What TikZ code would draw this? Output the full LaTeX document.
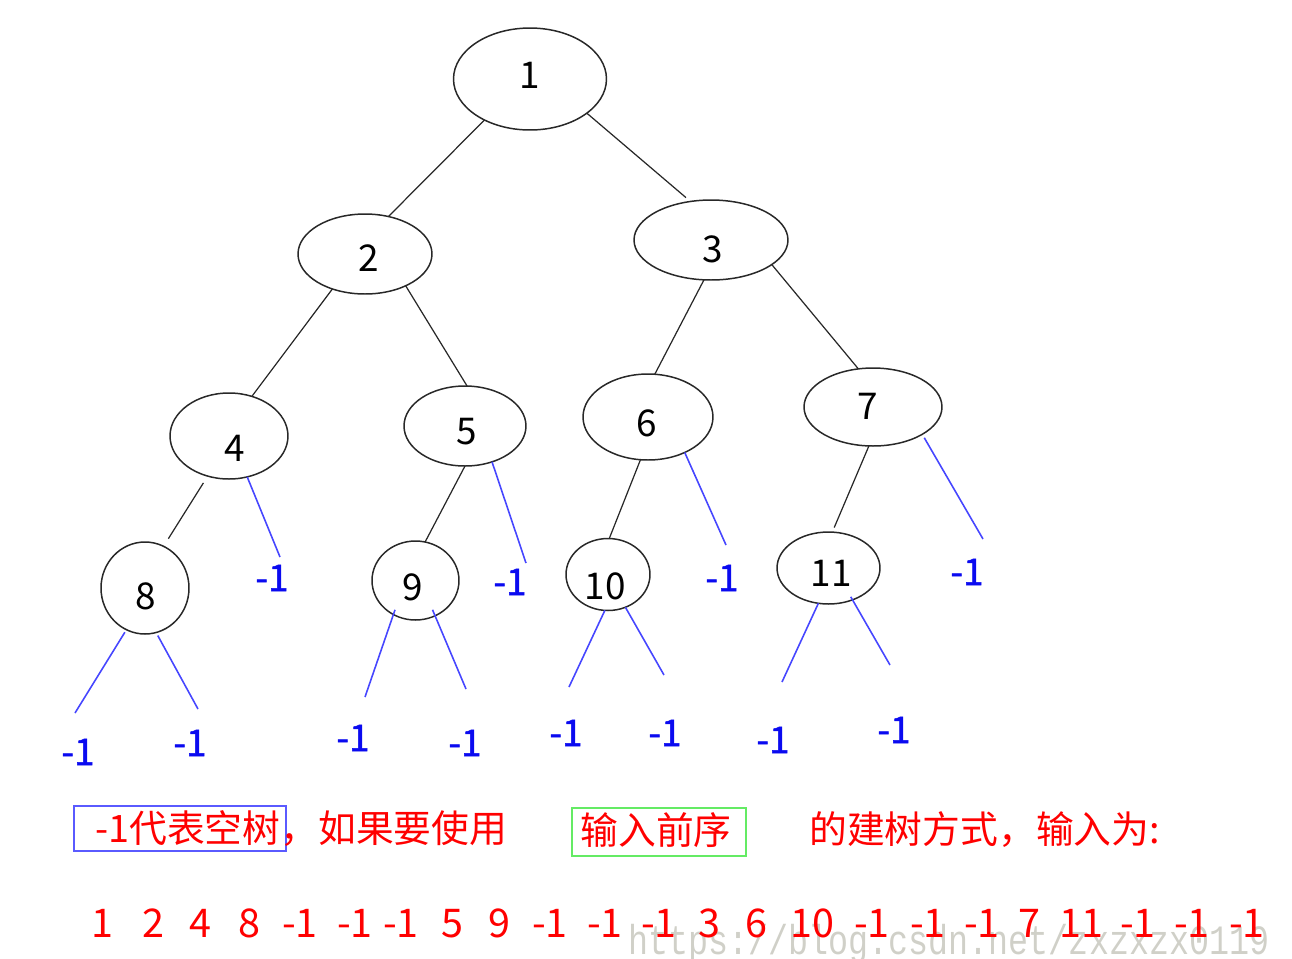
\documentclass[tikz,border=0pt]{standalone}
\usepackage{fontspec}
\setmainfont{Noto Sans CJK SC}
\newfontfamily\semibfont{Noto Sans CJK SC}[FakeBold=1.2]
\newfontfamily\wmfont{Liberation Mono}
\usetikzlibrary{shapes.geometric}
\definecolor{edgeblack}{RGB}{40,40,40}
\definecolor{nullblue}{RGB}{70,70,255}
\definecolor{nulltext}{RGB}{10,10,240}
\definecolor{txtred}{RGB}{255,0,0}
\definecolor{boxblue}{RGB}{90,90,255}
\definecolor{boxgreen}{RGB}{100,235,100}
\definecolor{wmgray}{RGB}{208,208,200}
\begin{document}
\begin{tikzpicture}[x=0.02cm,y=-0.02cm,
  tnode/.style={ellipse,draw=edgeblack,line width=0.85pt,inner sep=0,outer sep=0},
  tlabel/.style={font=\fontsize{21pt}{21pt}\selectfont,text=black,inner sep=0},
  edge/.style={draw=edgeblack,line width=0.7pt},
  nulledge/.style={draw=nullblue,line width=0.9pt},
  nulllabel/.style={font=\semibfont\fontsize{21pt}{21pt}\selectfont,text=nulltext,inner sep=0},
  redtext/.style={font=\fontsize{21.5pt}{21.5pt}\selectfont,text=txtred,inner sep=0},
  numtext/.style={font=\fontsize{22.5pt}{22.5pt}\selectfont,text=txtred,inner sep=0,anchor=base},
  framebox/.style={rectangle,line width=1pt,inner sep=0,outer sep=0}
]
\path[use as bounding box] (0,0) rectangle (1292,958);

% watermark (behind)
\node[anchor=base west,inner sep=0,text=wmgray,font=\wmfont\fontsize{19pt}{19pt}\selectfont] (wm) at (628,954) {\scalebox{1}[1.25]{https://blog.csdn.net/zxzxzx0119}};

% tree nodes
\node[tnode,minimum width=3.06cm,minimum height=2.04cm] (n1) at (530,79) {};
\node[tnode,minimum width=2.68cm,minimum height=1.6cm] (n2) at (365,254) {};
\node[tnode,minimum width=3.08cm,minimum height=1.6cm] (n3) at (711,240) {};
\node[tnode,minimum width=2.36cm,minimum height=1.72cm] (n4) at (229,436) {};
\node[tnode,minimum width=2.44cm,minimum height=1.6cm] (n5) at (465,426) {};
\node[tnode,minimum width=2.6cm,minimum height=1.72cm] (n6) at (648,417) {};
\node[tnode,minimum width=2.76cm,minimum height=1.56cm] (n7) at (873,407) {};
\node[tnode,minimum width=1.76cm,minimum height=1.84cm] (n8) at (145,588) {};
\node[tnode,minimum width=1.74cm,minimum height=1.58cm] (n9) at (415.5,580.5) {};
\node[tnode,minimum width=1.68cm,minimum height=1.44cm] (n10) at (608,574.5) {};
\node[tnode,minimum width=2.06cm,minimum height=1.44cm] (n11) at (828.5,568) {};

% node labels
\node[tlabel] (t1) at (530,75) {1};
\node[tlabel] (t2) at (369,258) {2};
\node[tlabel] (t3) at (713,249) {3};
\node[tlabel] (t4) at (235,448) {4};
\node[tlabel] (t5) at (467,432) {5};
\node[tlabel] (t6) at (647,423) {6};
\node[tlabel] (t7) at (868,406) {7};
\node[tlabel] (t8) at (146,596) {8};
\node[tlabel] (t9) at (413,587) {9};
\node[tlabel] (t10) at (605,586) {10};
\node[tlabel] (t11) at (831,573) {11};

% tree edges
\draw[edge] (n1.222) -- (n2.58);
\draw[edge,shorten >=0.12cm] (n1.329) -- (n3.118);
\draw[edge] (n2.227) -- (n4.60);
\draw[edge] (n2.322) -- (n5.87);
\draw[edge] (n3.260) -- (n6.81);
\draw[edge] (n3.338) -- (n7.111);
\draw[edge,shorten <=0.16cm,shorten >=0.18cm] (n4.242) -- (n8.66);
\draw[edge] (n5.270) -- (n9.76);
\draw[edge] (n6.260) -- (n10.88);
\draw[edge,shorten >=0.1cm] (n7.264) -- (n11.84);

% null edges
\coordinate (e4) at (280,557);
\coordinate (e5) at (526,563);
\coordinate (e6) at (726,545);
\coordinate (e7) at (983,539);
\coordinate (e8a) at (75,713);
\coordinate (e8b) at (198,709);
\coordinate (e9a) at (365,697);
\coordinate (e9b) at (466,689);
\coordinate (e10a) at (569,687);
\coordinate (e10b) at (664,675);
\coordinate (e11a) at (782,682);
\coordinate (e11b) at (890,665);
\draw[nulledge] (n4.294) -- (e4);
\draw[nulledge] (n5.307) -- (e5);
\draw[nulledge] (n6.316) -- (e6);
\draw[nulledge,shorten <=0.08cm] (n7.331) -- (e7);
\draw[nulledge,shorten <=0.06cm] (n8.246) -- (e8a);
\draw[nulledge,shorten <=0.07cm] (n8.284) -- (e8b);
\draw[nulledge,shorten <=-0.1cm] (n9.237) -- (e9a);
\draw[nulledge,shorten <=-0.13cm] (n9.299) -- (e9b);
\draw[nulledge] (n10.265) -- (e10a);
\draw[nulledge] (n10.298) -- (e10b);
\draw[nulledge] (n11.254) -- (e11a);
\draw[nulledge,shorten <=-0.07cm] (n11.307) -- (e11b);

% null labels
\node[nulllabel] (l4) at (272,578) {-1};
\node[nulllabel] (l5) at (510,582) {-1};
\node[nulllabel] (l6) at (722,578) {-1};
\node[nulllabel] (l7) at (967,572) {-1};
\node[nulllabel] (l8a) at (78,752) {-1};
\node[nulllabel] (l8b) at (190,743) {-1};
\node[nulllabel] (l9a) at (353,738) {-1};
\node[nulllabel] (l9b) at (465,743) {-1};
\node[nulllabel] (l10a) at (566,733) {-1};
\node[nulllabel] (l10b) at (665,733) {-1};
\node[nulllabel] (l11a) at (773,740) {-1};
\node[nulllabel] (l11b) at (894,730) {-1};

% caption row
\node[framebox,draw=boxblue,minimum width=4.24cm,minimum height=0.9cm] (box1) at (180,828.5) {};
\node[framebox,draw=boxgreen,minimum width=3.48cm,minimum height=0.96cm] (box2) at (659,832) {};
\node[redtext,anchor=west] (c1) at (95,829) {-1代表空树，如果要使用};
\node[redtext] (c2) at (656,830) {输入前序};
\node[redtext,anchor=west] (c3) at (809,830) {的建树方式，输入为:};

% preorder sequence
\foreach \px/\tx [count=\i] in {102/1,153/2,200/4,249/8,300/-1,355/-1,401/-1,452/5,499/9,550/-1,605/-1,659/-1,709/3,756/6,812/10,872/-1,928/-1,982/-1,1029/7,1081/11,1138/-1,1192/-1,1247/-1}
  \node[numtext] (s\i) at (\px,937) {\tx};
\end{tikzpicture}
\end{document}
